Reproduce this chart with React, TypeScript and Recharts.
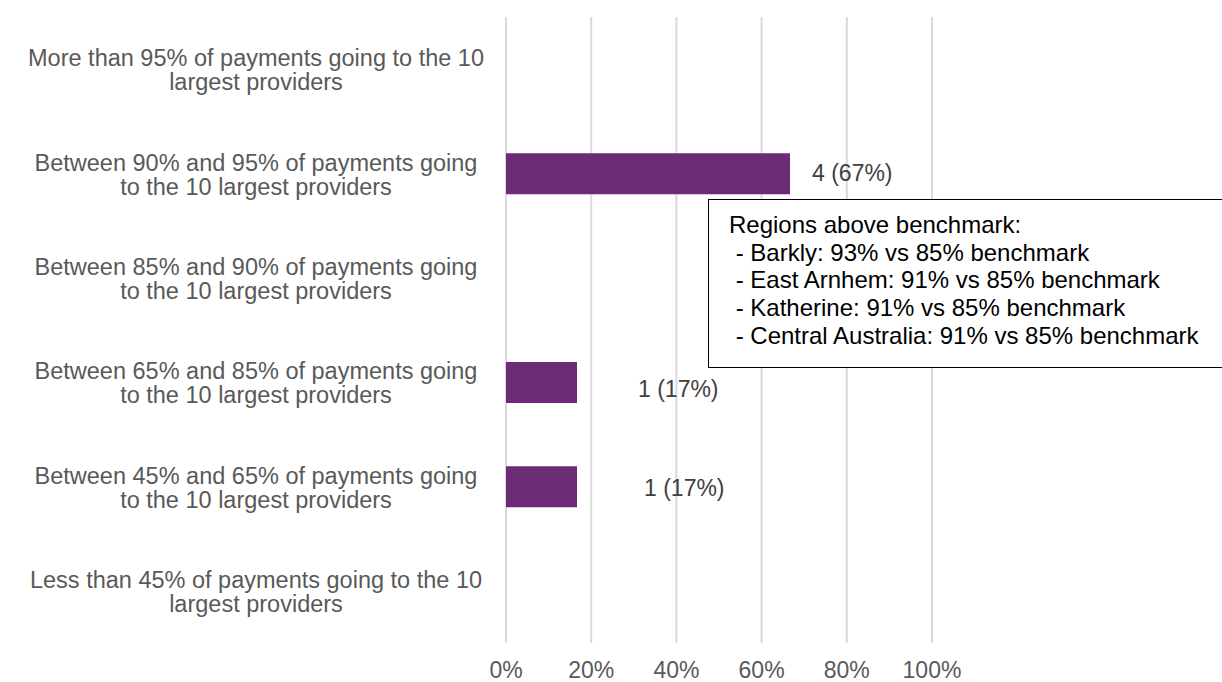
import React from 'react';
import { BarChart, Bar, XAxis, YAxis, CartesianGrid, LabelList } from 'recharts';

// Category labels (line breaks as in the original chart)
const categories = [
  'More than 95% of payments going to the 10\nlargest providers',
  'Between 90% and 95% of payments going\nto the 10 largest providers',
  'Between 85% and 90% of payments going\nto the 10 largest providers',
  'Between 65% and 85% of payments going\nto the 10 largest providers',
  'Between 45% and 65% of payments going\nto the 10 largest providers',
  'Less than 45% of payments going to the 10\nlargest providers',
];

// Number of regions in each band, and their share of the 6 regions
const regionCounts = [0, 4, 0, 1, 1, 0];
const regionShares = [0, 0.6667, 0, 0.1667, 0.1667, 0];

const xTicks = [0, 0.2, 0.4, 0.6, 0.8, 1];

const noteLines = [
  'Regions above benchmark:',
  ' - Barkly: 93% vs 85% benchmark',
  ' - East Arnhem: 91% vs 85% benchmark',
  ' - Katherine: 91% vs 85% benchmark',
  ' - Central Australia: 91% vs 85% benchmark',
];

// hand-placed data labels in the source chart
const labelNudge = [
  { dx: 22, dy: 0 },
  { dx: 22, dy: -1 },
  { dx: 22, dy: 0 },
  { dx: 61, dy: 6 },
  { dx: 67, dy: 1 },
  { dx: 22, dy: 0 },
];

const FONT = '"Liberation Sans", Arial, sans-serif';

const data = categories.map((category, i) => ({
  category,
  share: regionShares[i],
  row: i,
}));

const CategoryTick = (props: any) => {
  const { x, y, payload } = props;
  const lines = String(payload.value).split('\n');
  const cx = x - 242;
  return (
    <text x={cx} y={y} textAnchor="middle" fill="#595959" fontSize={23.5} fontFamily={FONT}>
      {lines.map((line, i) => (
        <tspan key={i} x={cx} y={y - 3 + i * 24}>
          {line}
        </tspan>
      ))}
    </text>
  );
};

const BarValueLabel = (props: any) => {
  const { x, y, width, height, value } = props;
  const row = Number(value);
  const count = regionCounts[row];
  if (!count) return null;
  const nudge = labelNudge[row];
  const pct = Math.round(regionShares[row] * 100);
  return (
    <text
      x={Number(x) + Number(width) + nudge.dx}
      y={Number(y) + Number(height) / 2 + nudge.dy}
      dominantBaseline="central"
      fill="#404040"
      fontSize={23}
      fontFamily={FONT}
    >
      {`${count} (${pct}%)`}
    </text>
  );
};

const App = () => {
  return (
    <div
      style={{
        position: 'absolute',
        left: 0,
        top: 0,
        width: 1222,
        height: 682,
        overflow: 'hidden',
        background: '#fff',
        fontFamily: FONT,
      }}
    >
      <BarChart
        width={1222}
        height={682}
        data={data}
        layout="vertical"
        margin={{ top: 17, right: 290, left: 0, bottom: 0 }}
      >
        <CartesianGrid horizontal={false} stroke="#d9d9d9" strokeWidth={2} />
        <XAxis
          type="number"
          domain={[0, 1]}
          ticks={xTicks}
          interval={0}
          tickFormatter={(v: number) => `${Math.round(v * 100)}%`}
          axisLine={false}
          tickLine={false}
          height={39}
          tickMargin={13}
          tick={{ fill: '#595959', fontSize: 23, fontFamily: FONT }}
        />
        <YAxis
          type="category"
          dataKey="category"
          width={506}
          interval={0}
          axisLine={false}
          tickLine={false}
          tick={<CategoryTick />}
        />
        <Bar dataKey="share" fill="#6B2C75" barSize={41} isAnimationActive={false}>
          <LabelList dataKey="row" content={<BarValueLabel />} />
        </Bar>
      </BarChart>

      <div
        style={{
          position: 'absolute',
          left: 708,
          top: 199,
          width: 540,
          height: 169,
          border: '1.5px solid #000',
          background: '#fff',
          padding: '11px 0 0 20px',
          boxSizing: 'border-box',
          fontSize: 24,
          lineHeight: '27.7px',
          color: '#000',
          whiteSpace: 'pre',
        }}
      >
        {noteLines.map((line, i) => (
          <div key={i}>{line}</div>
        ))}
      </div>
    </div>
  );
};

export default App;
